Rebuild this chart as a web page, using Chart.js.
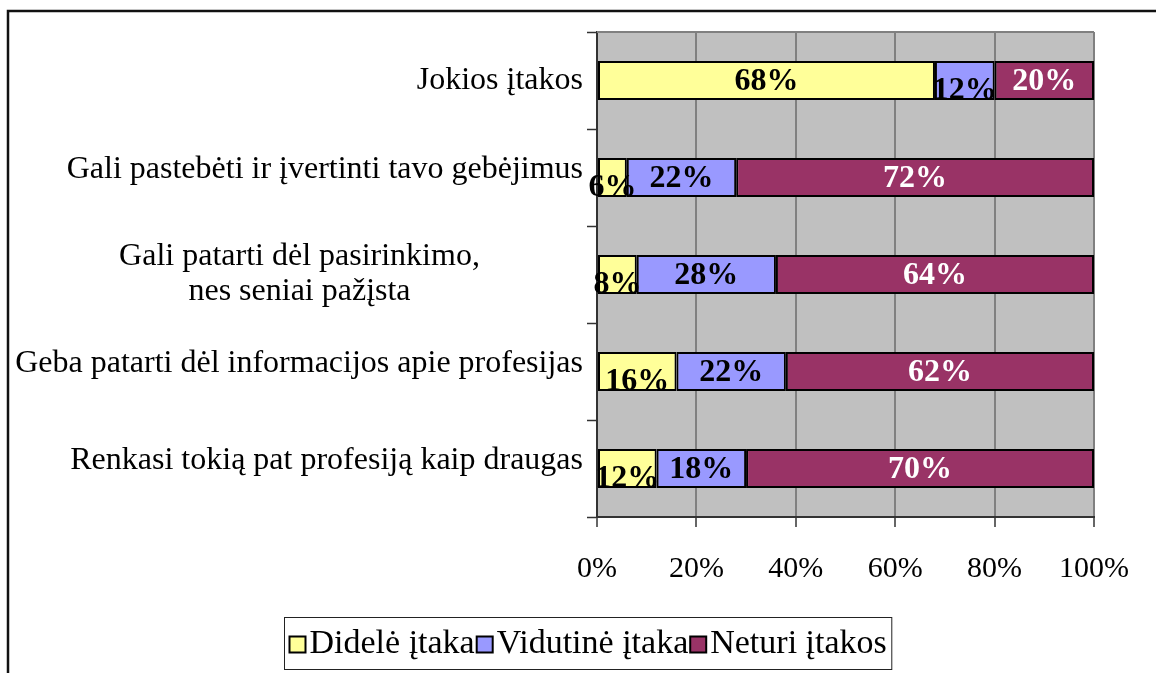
<!DOCTYPE html>
<html>
<head>
<meta charset="utf-8">
<script src="https://cdn.jsdelivr.net/npm/chart.js@4/dist/chart.umd.min.js"></script>
<style>
  html, body { margin: 0; padding: 0; background: #fff; }
  #wrap { width: 1156px; height: 673px; }
</style>
</head>
<body>
<div id="wrap"><canvas id="chart" width="1156" height="673"></canvas></div>
<script>
'use strict';

// categories, top to bottom
const categories = [
  'Jokios įtakos',
  'Gali pastebėti ir įvertinti tavo gebėjimus',
  ['Gali patarti dėl pasirinkimo,', 'nes seniai pažįsta'],
  'Geba patarti dėl informacijos apie profesijas',
  'Renkasi tokią pat profesiją kaip draugas'
];
const seriesNames = ['Didelė įtaka', 'Vidutinė įtaka', 'Neturi įtakos'];
const didele   = [68, 6, 8, 16, 12];
const vidutine = [12, 22, 28, 22, 18];
const neturi   = [20, 72, 64, 62, 70];

const COLORS = ['#FFFF99', '#9999FF', '#993366'];
const SERIF = '"Liberation Serif", "Times New Roman", serif';

// white page, grey plot area, outer frame
const background = {
  id: 'background',
  beforeDraw(chart) {
    const { ctx, chartArea: a } = chart;
    ctx.save();
    ctx.fillStyle = '#fff';
    ctx.fillRect(0, 0, chart.width, chart.height);
    ctx.fillStyle = '#C0C0C0';
    ctx.fillRect(a.left, a.top, a.right - a.left, a.bottom - a.top);
    ctx.restore();
  },
  afterDraw(chart) {
    const { ctx, chartArea: a } = chart;
    ctx.save();
    ctx.strokeStyle = '#808080';
    ctx.lineWidth = 2;
    ctx.beginPath();
    ctx.moveTo(a.left, a.top);
    ctx.lineTo(a.right, a.top);
    ctx.stroke();
    ctx.strokeStyle = '#111';
    ctx.lineWidth = 2.5;
    ctx.beginPath();
    ctx.moveTo(8, chart.height);
    ctx.lineTo(8, 11);
    ctx.lineTo(chart.width, 11);
    ctx.stroke();
    ctx.restore();
  }
};

// category labels: single lines right-aligned, wrapped ones centred
const yLabels = {
  id: 'yLabels',
  afterDraw(chart) {
    const { ctx } = chart;
    const y = chart.scales.y;
    const right = y.right - 14;
    ctx.save();
    ctx.font = '32px ' + SERIF;
    ctx.fillStyle = '#000';
    ctx.textBaseline = 'middle';
    categories.forEach((lab, i) => {
      const yc = y.getPixelForValue(i);
      if (Array.isArray(lab)) {
        ctx.textAlign = 'center';
        lab.forEach((line, k) => {
          ctx.fillText(line, (16 + right) / 2, yc + (k - (lab.length - 1) / 2) * 35);
        });
      } else {
        ctx.textAlign = 'right';
        ctx.fillText(lab, right, yc - (i > 0 ? 8 : 0));
      }
    });
    ctx.restore();
  }
};

// value labels inside the segments
const valueLabels = {
  id: 'valueLabels',
  afterDatasetsDraw(chart) {
    const { ctx } = chart;
    ctx.save();
    ctx.font = 'bold 32px ' + SERIF;
    ctx.textAlign = 'center';
    ctx.textBaseline = 'middle';
    chart.data.datasets.forEach((ds, di) => {
      chart.getDatasetMeta(di).data.forEach((bar, i) => {
        const { x, base, y } = bar.getProps(['x', 'base', 'y'], true);
        const w = Math.abs(x - base);
        ctx.fillStyle = di === 2 ? '#fff' : '#000';
        ctx.fillText(ds.data[i] + '%', (x + base) / 2, y + (w < 85 ? 10 : 1));
      });
    });
    ctx.restore();
  }
};

// boxed legend below the axis
const boxLegend = {
  id: 'boxLegend',
  afterDraw(chart) {
    const { ctx } = chart;
    ctx.save();
    ctx.font = '34px ' + SERIF;
    const widths = seriesNames.map(n => ctx.measureText(n).width);
    const sq = 16, gap = 4, pad = 5;
    const total = widths.reduce((s, w) => s + sq + gap + w, 0) + (seriesNames.length - 1) * 2;
    const boxW = total + pad * 2;
    const left = Math.round(588 - boxW / 2) + 0.5;
    const top = 617.5, h = 52;
    ctx.strokeStyle = '#222';
    ctx.lineWidth = 1;
    ctx.strokeRect(left, top, boxW, h);
    let x = left + pad;
    const cy = top + h / 2 + 1;
    ctx.textBaseline = 'middle';
    ctx.textAlign = 'left';
    seriesNames.forEach((n, i) => {
      ctx.fillStyle = COLORS[i];
      ctx.fillRect(x, cy - sq / 2, sq, sq);
      ctx.strokeStyle = '#000';
      ctx.lineWidth = 2;
      ctx.strokeRect(x, cy - sq / 2, sq, sq);
      x += sq + gap;
      ctx.fillStyle = '#000';
      ctx.fillText(n, x, cy);
      x += widths[i] + 2;
    });
    ctx.restore();
  }
};

const makeSet = (label, data, i) => ({
  label,
  data,
  backgroundColor: COLORS[i],
  borderColor: '#000',
  borderWidth: 2,
  borderSkipped: false,
  categoryPercentage: 0.4,
  barPercentage: 1
});

new Chart(document.getElementById('chart'), {
  type: 'bar',
  data: {
    labels: categories,
    datasets: [
      makeSet(seriesNames[0], didele, 0),
      makeSet(seriesNames[1], vidutine, 1),
      makeSet(seriesNames[2], neturi, 2)
    ]
  },
  options: {
    indexAxis: 'y',
    responsive: false,
    animation: false,
    layout: { padding: { top: 32, right: 62, bottom: 56, left: 0 } },
    plugins: {
      legend: { display: false },
      tooltip: { enabled: false }
    },
    scales: {
      x: {
        stacked: true,
        min: 0,
        max: 100,
        ticks: {
          stepSize: 20,
          maxRotation: 0,
          padding: 24,
          color: '#000',
          font: { family: SERIF, size: 30 },
          callback: v => v + '%'
        },
        grid: { color: '#808080', lineWidth: 2, tickColor: '#333', tickLength: 10, tickWidth: 1.5 },
        border: { color: '#333', width: 2 },
        afterFit: s => { s.height = 100; }
      },
      y: {
        stacked: true,
        ticks: { display: false },
        grid: { drawOnChartArea: false, tickColor: '#333', tickLength: 10, tickWidth: 1.5 },
        border: { color: '#333', width: 2 },
        afterFit: s => { s.width = 597; }
      }
    }
  },
  plugins: [background, yLabels, valueLabels, boxLegend]
});
</script>
</body>
</html>
